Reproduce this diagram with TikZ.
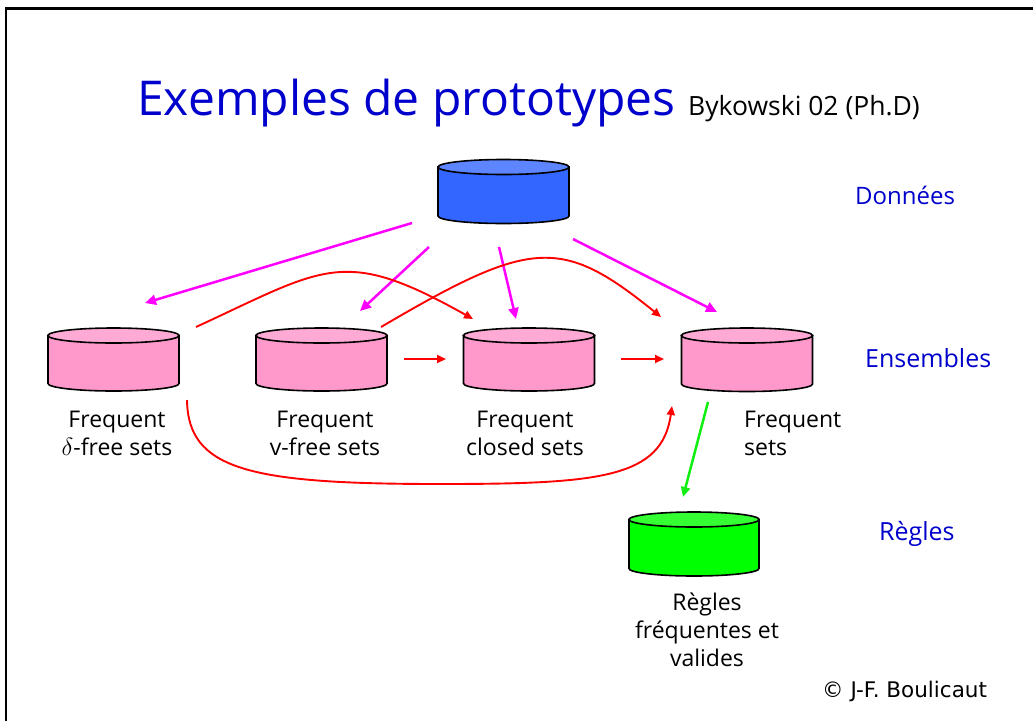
\documentclass[tikz,border=0pt]{standalone}
\usepackage{fontspec}
\setmainfont{Open Sans}
\newfontfamily\copyfont{DejaVu Sans}
\usetikzlibrary{arrows.meta}
\definecolor{titleblue}{HTML}{0000CC}
\definecolor{databody}{HTML}{3366FF}
\definecolor{datatop}{HTML}{5C85FF}
\definecolor{pinkbody}{HTML}{FF99CC}
\definecolor{pinktop}{HTML}{FFAAD4}
\definecolor{greenbody}{HTML}{00FF00}
\definecolor{greentop}{HTML}{33FF33}
\definecolor{mag}{HTML}{FF00FF}
\definecolor{arrred}{HTML}{FF0000}
\definecolor{arrgreen}{HTML}{11EE11}
\tikzset{
  cylline/.style={draw=black, line width=1.6pt},
  magarrow/.style={draw=mag, line width=2.5pt, -{Triangle[length=11pt,width=10pt]}},
  redarrow/.style={draw=arrred, line width=1.9pt, -{Triangle[length=9pt,width=8pt]}},
  greenarrow/.style={draw=arrgreen, line width=2.5pt, -{Triangle[length=10pt,width=9pt]}},
  setlabel/.style={inner sep=0pt, align=center, font=\fontsize{23}{28}\selectfont},
  levellabel/.style={inner sep=0pt, anchor=base west, text=titleblue, font=\fontsize{24}{28}\selectfont},
}
% name, cx, top-ellipse y, bottom y, rx, body colour, top colour
\newcommand\mycyl[7]{%
  \draw[cylline, fill=#6] (#2-#5,#3) -- (#2-#5,#4) arc[start angle=180,end angle=0,x radius=#5,y radius=7.5] -- (#2+#5,#3) -- cycle;
  \draw[cylline, fill=#7] (#2,#3) ellipse[x radius=#5, y radius=7.5];
  \node[inner sep=0pt, minimum width=2*#5, minimum height=#4-#3+15] (#1) at (#2,{(#3+#4)/2}) {};
}
\begin{document}
\begin{tikzpicture}[x=1pt,y=-1pt]
\useasboundingbox (0,0) rectangle (1033,721);
\fill[white] (0,0) rectangle (1033,721);
% frame
\draw[line width=2.5pt] (6,721) -- (6,8.5) -- (1033,8.5);
% title
\node[inner sep=0pt, anchor=base west, text=titleblue, font=\fontsize{48}{52}\selectfont] (title) at (137,115) {Exemples de prototypes};
\node[inner sep=0pt, anchor=base west, font=\fontsize{26.5}{30}\selectfont] (author) at (688,115) {Bykowski 02 (Ph.D)};
% cylinders
\mycyl{data}{503.5}{167}{216}{65.5}{databody}{datatop}
\mycyl{dfree}{113.5}{335.5}{383.5}{65.5}{pinkbody}{pinktop}
\mycyl{vfree}{321.5}{335.5}{383.5}{65.5}{pinkbody}{pinktop}
\mycyl{closed}{529}{335.5}{383.5}{65.5}{pinkbody}{pinktop}
\mycyl{freq}{747}{335.5}{384}{65.5}{pinkbody}{pinktop}
\mycyl{rules}{694}{519.5}{568.5}{65}{greenbody}{greentop}
% labels
\node[setlabel, anchor=north] (ldfree) at (117,411) {Frequent\\$\delta$-free sets};
\node[setlabel, anchor=north] (lvfree) at (325,411) {Frequent\\v-free sets};
\node[setlabel, anchor=north] (lclosed) at (525,411) {Frequent\\closed sets};
\node[setlabel, anchor=north west, align=left] (lfreq) at (744,411) {Frequent\\sets};
\node[setlabel, anchor=north] (lrules) at (707,593) {Règles\\fréquentes et\\valides};
\node[levellabel] (ldonnees) at (855,204) {Données};
\node[levellabel, font=\fontsize{25}{28}\selectfont] (lensembles) at (865,367) {Ensembles};
\node[levellabel, font=\fontsize{25}{28}\selectfont] (lregles) at (879,540) {Règles};
\node[inner sep=0pt, anchor=base west, font=\copyfont\fontsize{21.5}{26}\selectfont] (copy) at (822,697) {© J-F. Boulicaut};
% arrow end points
\coordinate (m1s) at (412,223); \coordinate (m1e) at (145,303);
\coordinate (m2s) at (429,247); \coordinate (m2e) at (360,311);
\coordinate (m3s) at (499,247); \coordinate (m3e) at (516,319);
\coordinate (m4s) at (573,239); \coordinate (m4e) at (717,312);
\coordinate (ras) at (196,327); \coordinate (rae) at (473,319);
\coordinate (rbs) at (381,327); \coordinate (rbe) at (661,317);
\coordinate (rcs) at (404,359); \coordinate (rce) at (446,359);
\coordinate (rds) at (621,359); \coordinate (rde) at (664,359);
\coordinate (res) at (187,400); \coordinate (rem) at (440,484); \coordinate (ree) at (672,406);
\coordinate (gs) at (708,402); \coordinate (ge) at (683,497);
% magenta arrows
\draw[magarrow] (m1s) -- (m1e);
\draw[magarrow] (m2s) -- (m2e);
\draw[magarrow] (m3s) -- (m3e);
\draw[magarrow] (m4s) -- (m4e);
% red arrows
\draw[redarrow] (ras) .. controls (326,267) and (343,246) .. (rae);
\draw[redarrow] (rbs) .. controls (531,239) and (561,236) .. (rbe);
\draw[redarrow] (rcs) -- (rce);
\draw[redarrow] (rds) -- (rde);
\draw[redarrow] (res) .. controls (188,470) and (250,484) .. (rem) .. controls (600,484) and (662,478) .. (ree);
% green arrow
\draw[greenarrow] (gs) -- (ge);
\end{tikzpicture}
\end{document}
